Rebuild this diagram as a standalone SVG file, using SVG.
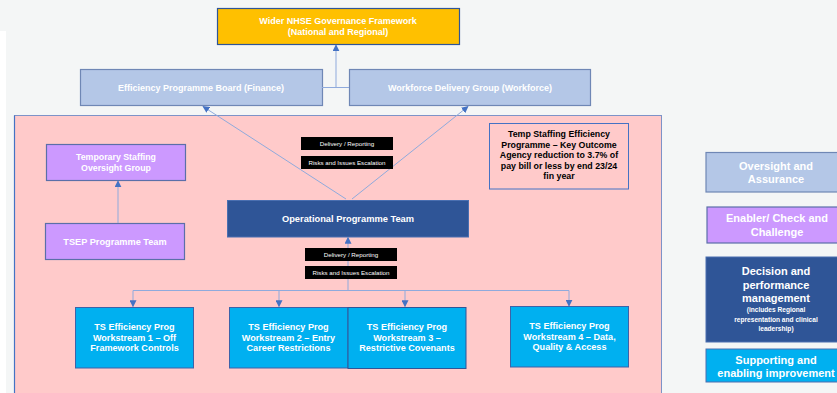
<svg xmlns="http://www.w3.org/2000/svg" width="837" height="393" viewBox="0 0 837 393">
<defs>
<marker id="ah" viewBox="0 0 10 10" refX="9" refY="5" markerWidth="7" markerHeight="7" orient="auto" markerUnits="userSpaceOnUse">
<path d="M0,0 L10,5 L0,10 z" fill="#4472c4"/>
</marker>
<style>
text{font-family:"Liberation Sans",Arial,sans-serif;text-anchor:middle;font-weight:bold;fill:#fff}
.conn line,.conn polyline{stroke:#8faadc;stroke-width:1;fill:none}
.blk rect{fill:#000}
.blk text{font-weight:normal;font-size:6.2px}
.ws rect{fill:#00b0f0;stroke:#3d62a8;stroke-width:1}
.ws text{font-size:9.1px}
.ov rect{fill:#b4c7e7;stroke:#6f87b5;stroke-width:1.2}
.pu rect{fill:#cc99ff;stroke:#5b6fa8;stroke-width:1.2}
.top text{font-size:9px}
.lg text{font-size:11px}
.lg text.sm{font-size:6.6px}
.dark text{fill:#000;font-size:8.8px}
</style>
</defs>
<rect x="0" y="0" width="837" height="393" fill="#f4f6f6"/>
<rect x="0" y="31" width="6" height="362" fill="#ffffff"/>

<g id="pink-area">
<rect x="14.5" y="115.5" width="647" height="290" fill="#ffcaca" stroke="#7d93c8" stroke-width="1"/>
<line x1="14.5" y1="115.5" x2="14.5" y2="393" stroke="#4472c4" stroke-width="1.2"/>
</g>

<g id="wider-nhse" class="top">
<rect x="217.5" y="8.5" width="242" height="36" fill="#ffc000" stroke="#2f5597" stroke-width="1.2"/>
<text x="338" y="24">Wider NHSE Governance Framework</text>
<text x="338" y="35">(National and Regional)</text>
</g>

<g id="efficiency-board" class="ov top">
<rect x="80.5" y="69.5" width="242" height="36"/>
<text x="201" y="90.5">Efficiency Programme Board (Finance)</text>
</g>

<g id="workforce-delivery" class="ov top">
<rect x="349.5" y="69.5" width="241" height="36"/>
<text x="470" y="90.5">Workforce Delivery Group (Workforce)</text>
</g>

<g id="temp-staffing-outcome" class="dark">
<rect x="489.5" y="123.5" width="139" height="65.5" fill="#ffcaca" stroke="#4472c4" stroke-width="1"/>
<text x="559" y="137">Temp Staffing Efficiency</text>
<text x="559" y="147.5">Programme – Key Outcome</text>
<text x="559" y="158">Agency reduction to 3.7% of</text>
<text x="559" y="168.5">pay bill  or less by end 23/24</text>
<text x="559" y="179">fin year</text>
</g>

<g id="ts-oversight-group" class="pu">
<rect x="46.5" y="144.5" width="139" height="36"/>
<text x="116" y="160" font-size="8.8px">Temporary Staffing</text>
<text x="116" y="171" font-size="8.8px">Oversight Group</text>
</g>

<g id="tsep-team" class="pu">
<rect x="45.5" y="223.5" width="139" height="36"/>
<text x="115" y="244.5" font-size="9.2px">TSEP Programme Team</text>
</g>

<g id="operational-team">
<rect x="227.5" y="200.5" width="241" height="36.5" fill="#2f5597" stroke="#4a6fb0" stroke-width="1"/>
<text x="348" y="222" font-size="9.3px">Operational Programme Team</text>
</g>

<g id="connectors" class="conn">
<polyline points="322,87.5 349,87.5"/>
<line x1="336" y1="87.5" x2="336" y2="45" marker-end="url(#ah)"/>
<line x1="346" y1="199" x2="203" y2="106.5" marker-end="url(#ah)"/>
<line x1="352" y1="199" x2="468" y2="106.5" marker-end="url(#ah)"/>
<line x1="118" y1="223" x2="118" y2="181" marker-end="url(#ah)"/>
<line x1="348" y1="290" x2="348" y2="237.5" marker-end="url(#ah)"/>
<polyline points="133,290.5 569,290.5 569,306" marker-end="url(#ah)"/>
<line x1="133" y1="290.5" x2="133" y2="306.5" marker-end="url(#ah)"/>
<line x1="279" y1="290.5" x2="279" y2="306.5" marker-end="url(#ah)"/>
<line x1="405" y1="290.5" x2="405" y2="306.5" marker-end="url(#ah)"/>
</g>

<g id="labels-upper" class="blk">
<rect x="301" y="137" width="92" height="13"/>
<text x="347" y="145.7">Delivery / Reporting</text>
<rect x="301" y="156" width="92" height="13"/>
<text x="347" y="164.7">Risks and Issues Escalation</text>
</g>

<g id="labels-lower" class="blk">
<rect x="305" y="248" width="92" height="13"/>
<text x="351" y="256.7">Delivery / Reporting</text>
<rect x="305" y="266" width="92" height="13"/>
<text x="351" y="274.7">Risks and Issues Escalation</text>
</g>

<g id="workstream-1" class="ws">
<rect x="75.5" y="307.5" width="118" height="60.5"/>
<text x="134.5" y="330">TS Efficiency Prog</text>
<text x="134.5" y="340.5">Workstream 1 – Off</text>
<text x="134.5" y="351">Framework Controls</text>
</g>
<g id="workstream-2" class="ws">
<rect x="229.5" y="307.5" width="118.5" height="60.5"/>
<text x="288.5" y="330">TS Efficiency Prog</text>
<text x="288.5" y="340.5">Workstream 2 – Entry</text>
<text x="288.5" y="351">Career Restrictions</text>
</g>
<g id="workstream-3" class="ws">
<rect x="348" y="307.5" width="118" height="61" style="stroke:#2f5597"/>
<text x="407" y="330">TS Efficiency Prog</text>
<text x="407" y="340.5">Workstream 3 –</text>
<text x="407" y="351">Restrictive Covenants</text>
</g>
<g id="workstream-4" class="ws">
<rect x="510.5" y="306.5" width="118" height="60.5"/>
<text x="569.5" y="329">TS Efficiency Prog</text>
<text x="569.5" y="339.5">Workstream 4 – Data,</text>
<text x="569.5" y="350">Quality &amp; Access</text>
</g>

<g id="legend-oversight" class="lg ov">
<rect x="706" y="152.5" width="140" height="39.5"/>
<text x="776" y="169.5">Oversight and</text>
<text x="776" y="183">Assurance</text>
</g>
<g id="legend-enabler" class="lg pu">
<rect x="707" y="207" width="140" height="36"/>
<text x="777" y="222">Enabler/ Check and</text>
<text x="777" y="235.5">Challenge</text>
</g>
<g id="legend-decision" class="lg">
<rect x="706" y="257" width="140" height="85" fill="#2f5597" stroke="#4a6fb0" stroke-width="1"/>
<text x="776" y="275">Decision and</text>
<text x="776" y="288.5">performance</text>
<text x="776" y="302">management</text>
<text class="sm" x="776" y="312">(includes  Regional</text>
<text class="sm" x="776" y="321.5">representation and clinical</text>
<text class="sm" x="776" y="331">leadership)</text>
</g>
<g id="legend-supporting" class="lg">
<rect x="706" y="349" width="140" height="33" fill="#00b0f0" stroke="#4a6fb0" stroke-width="1"/>
<text x="776" y="363.5">Supporting and</text>
<text x="776" y="377">enabling improvement</text>
</g>
</svg>
